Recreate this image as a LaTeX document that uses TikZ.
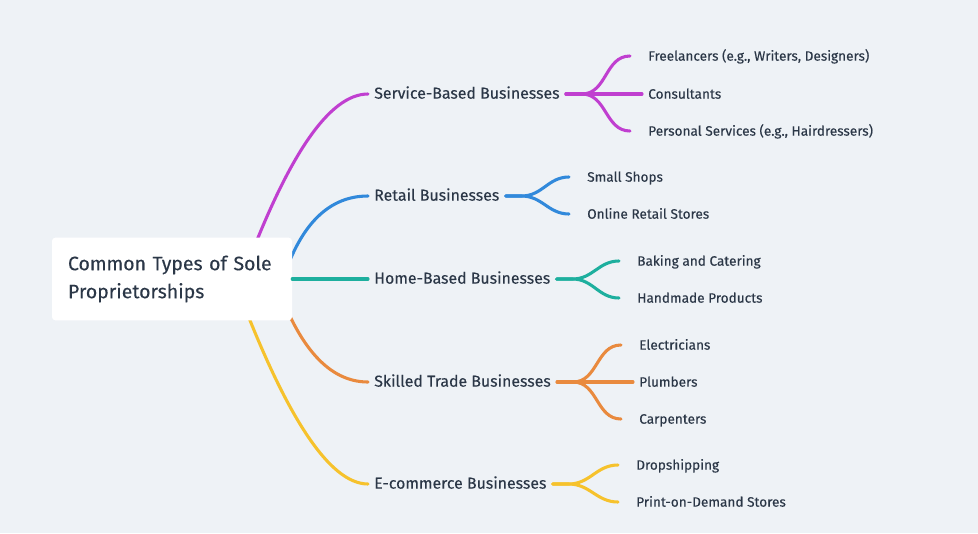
\documentclass[tikz,border=0pt]{standalone}
\usepackage{fontspec}
\setmainfont{Fira Sans}[FakeBold=0.25]
\usetikzlibrary{calc}
\definecolor{bg}{HTML}{EEF2F6}
\definecolor{ink}{HTML}{2B3747}
\definecolor{cpur}{HTML}{C03FD0}
\definecolor{cblu}{HTML}{3189DB}
\definecolor{ctea}{HTML}{1DAF9E}
\definecolor{cora}{HTML}{E98A3E}
\definecolor{cyel}{HTML}{F6C22C}
\begin{document}
\begin{tikzpicture}[x=0.75pt,y=-0.75pt,
  link/.style={line width=2.3pt,line cap=round},
  mainnode/.style={anchor=west,inner xsep=4.5pt,inner ysep=0pt,text=ink,font=\fontsize{11.9}{13}\selectfont,text height=0.7em,text depth=0pt},
  leaf/.style={anchor=west,inner xsep=4.5pt,inner ysep=0pt,text=ink,font=\fontsize{10.2}{12}\selectfont,text height=0.7em,text depth=0pt},
  rootnode/.style={fill=white,rounded corners=2.5pt,minimum width=180pt,minimum height=62pt,text width=156pt,align=left,inner xsep=12pt,text=ink,font=\fontsize{14.6}{21}\selectfont},
  kid/.style={to path={-- ++(16,0) to[out=0,in=180,looseness=1.05] ($(\tikztotarget)+(-12,0)$) -- (\tikztotarget)}}
]
\fill[bg] (0,0) rectangle (978,533);
\useasboundingbox (0,0) rectangle (978,533);

% start points of the main branches (hidden under the root box)
\coordinate (r1) at (242,279);
\coordinate (r2) at (283,279);
\coordinate (r4) at (275,279);
\coordinate (r5) at (234,279);

% main nodes
\node[mainnode] (svc) at (368,94) {Service-Based Businesses};
\node[mainnode] (ret) at (368,196) {Retail Businesses};
\node[mainnode] (home) at (368,279) {Home-Based Businesses};
\node[mainnode] (trade) at (368,382) {Skilled Trade Businesses};
\node[mainnode] (ecom) at (368,484) {E-commerce Businesses};

% leaves
\node[leaf] (s1) at (642,56) {Freelancers (e.g., Writers, Designers)};
\node[leaf] (s2) at (642,94) {Consultants};
\node[leaf] (s3) at (642,131) {Personal Services (e.g., Hairdressers)};
\node[leaf] (r1n) at (581,177) {Small Shops};
\node[leaf] (r2n) at (581,214) {Online Retail Stores};
\node[leaf] (h1) at (631,261) {Baking and Catering};
\node[leaf] (h2) at (631,298) {Handmade Products};
\node[leaf] (t1) at (633,345) {Electricians};
\node[leaf] (t2) at (633,382) {Plumbers};
\node[leaf] (t3) at (633,419) {Carpenters};
\node[leaf] (e1) at (630,465) {Dropshipping};
\node[leaf] (e2) at (630,502) {Print-on-Demand Stores};

% main branches
\draw[link,cpur] (r1) .. controls (287.3,155.7) and (329.3,94) .. (svc.west);
\draw[link,cblu] (r2) .. controls (301,223.7) and (329.3,196) .. (ret.west);
\draw[link,cora] (r4) .. controls (298.3,347.7) and (329.3,382) .. (trade.west);
\draw[link,cyel] (r5) .. controls (284.7,415.7) and (329.3,484) .. (ecom.west);

% root box
\node[rootnode] (root) at (172,279) {Common Types of Sole\\Proprietorships};
\draw[link,ctea] (root.east) -- (home.west);

% sub branches
\draw[link,cpur] (svc.east) to[kid] (s1.west);
\draw[link,cpur] (svc.east) -- (s2.west);
\draw[link,cpur] (svc.east) to[kid] (s3.west);
\draw[link,cblu] (ret.east) to[kid] (r1n.west);
\draw[link,cblu] (ret.east) to[kid] (r2n.west);
\draw[link,ctea] (home.east) to[kid] (h1.west);
\draw[link,ctea] (home.east) to[kid] (h2.west);
\draw[link,cora] (trade.east) to[kid] (t1.west);
\draw[link,cora] (trade.east) -- (t2.west);
\draw[link,cora] (trade.east) to[kid] (t3.west);
\draw[link,cyel] (ecom.east) to[kid] (e1.west);
\draw[link,cyel] (ecom.east) to[kid] (e2.west);
\end{tikzpicture}
\end{document}
